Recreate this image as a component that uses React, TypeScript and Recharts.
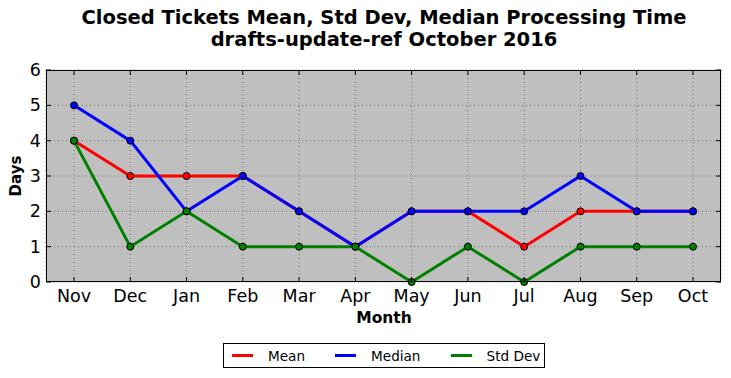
import { LineChart, Line, XAxis, YAxis, CartesianGrid } from "recharts";

const months = ["Nov", "Dec", "Jan", "Feb", "Mar", "Apr", "May", "Jun", "Jul", "Aug", "Sep", "Oct"];
const meanDays = [4, 3, 3, 3, 2, 1, 2, 2, 1, 2, 2, 2];
const medianDays = [5, 4, 2, 3, 2, 1, 2, 2, 2, 3, 2, 2];
const stdDevDays = [4, 1, 2, 1, 1, 1, 0, 1, 0, 1, 1, 1];
const yTicks = [0, 1, 2, 3, 4, 5, 6];

const series = [
  { key: "mean", name: "Mean", color: "#ff0000" },
  { key: "median", name: "Median", color: "#0000ff" },
  { key: "std", name: "Std Dev", color: "#008000" },
];

const data = months.map((m, i) => ({
  month: m,
  mean: meanDays[i],
  median: medianDays[i],
  std: stdDevDays[i],
}));

const W = 731;
const H = 378;
const PLOT_LEFT = 46;
const PLOT_RIGHT = 721;
const PLOT_TOP = 70;
const PLOT_BOTTOM = 282;
const FONT = "'DejaVu Sans', sans-serif";

function XTick({ x, payload }: any) {
  return (
    <g>
      <line x1={x} x2={x} y1={PLOT_BOTTOM} y2={PLOT_BOTTOM - 5} stroke="#000" />
      <line x1={x} x2={x} y1={PLOT_TOP} y2={PLOT_TOP + 5} stroke="#000" />
      <text x={x} y={302} textAnchor="middle" fontSize={17.5} fontFamily={FONT} fill="#000">
        {payload.value}
      </text>
    </g>
  );
}

function YTick({ y, payload }: any) {
  return (
    <g>
      <line x1={PLOT_LEFT} x2={PLOT_LEFT + 5} y1={y} y2={y} stroke="#000" />
      <line x1={PLOT_RIGHT} x2={PLOT_RIGHT - 5} y1={y} y2={y} stroke="#000" />
      <text x={PLOT_LEFT - 5} y={y + 6} textAnchor="end" fontSize={17.5} fontFamily={FONT} fill="#000">
        {payload.value}
      </text>
    </g>
  );
}

export default function App() {
  return (
    <div style={{ position: "absolute", left: 0, top: 0, width: W, height: H, background: "#fff" }}>
      <div
        style={{
          position: "absolute",
          left: 0,
          top: 7,
          width: W + 37,
          textAlign: "center",
          fontFamily: FONT,
          fontWeight: "bold",
          fontSize: 19.5,
          lineHeight: "22px",
        }}
      >
        Closed Tickets Mean, Std Dev, Median Processing Time
        <br />
        drafts-update-ref October 2016
      </div>
      <LineChart
        width={W}
        height={H}
        data={data}
        margin={{ top: PLOT_TOP, right: W - PLOT_RIGHT, bottom: 66, left: 0 }}
        style={{ position: "absolute", left: 0, top: 0 }}
      >
        <CartesianGrid stroke="#707070" strokeDasharray="1 3" fill="#bfbfbf" />
        <XAxis
          dataKey="month"
          padding={{ left: 28, right: 28 }}
          axisLine={false}
          tickLine={false}
          height={30}
          interval={0}
          tick={<XTick />}
        />
        <YAxis
          domain={[0, 6]}
          ticks={yTicks}
          width={PLOT_LEFT}
          axisLine={false}
          tickLine={false}
          tick={<YTick />}
        />
        {series.map((s) => (
          <Line
            key={s.key}
            dataKey={s.key}
            name={s.name}
            stroke={s.color}
            strokeWidth={3}
            dot={{ r: 3.5, fill: s.color, stroke: "#000", strokeWidth: 1 }}
            isAnimationActive={false}
          />
        ))}
      </LineChart>
      <div
        style={{
          position: "absolute",
          left: PLOT_LEFT,
          top: PLOT_TOP,
          width: PLOT_RIGHT - PLOT_LEFT - 2,
          height: PLOT_BOTTOM - PLOT_TOP - 2,
          border: "1px solid #000",
          pointerEvents: "none",
        }}
      />
      <div
        style={{
          position: "absolute",
          left: 16,
          top: 176,
          transform: "translate(-50%, -50%) rotate(-90deg)",
          fontFamily: FONT,
          fontWeight: "bold",
          fontSize: 15,
        }}
      >
        Days
      </div>
      <div
        style={{
          position: "absolute",
          left: 0,
          top: 309,
          width: 768,
          textAlign: "center",
          fontFamily: FONT,
          fontWeight: "bold",
          fontSize: 15.5,
        }}
      >
        Month
      </div>
      <div
        style={{
          position: "absolute",
          left: 223,
          top: 343,
          width: 312,
          height: 23,
          border: "1px solid #000",
          background: "#fff",
          fontFamily: FONT,
          fontSize: 13.6,
          display: "flex",
          alignItems: "center",
          paddingLeft: 8,
          boxSizing: "content-box",
          gap: 30,
        }}
      >
        {series.map((s) => (
          <div key={s.key} style={{ display: "flex", alignItems: "center" }}>
            <div style={{ width: 21, height: 3, background: s.color, marginRight: 15 }} />
            <span>{s.name}</span>
          </div>
        ))}
      </div>
    </div>
  );
}
